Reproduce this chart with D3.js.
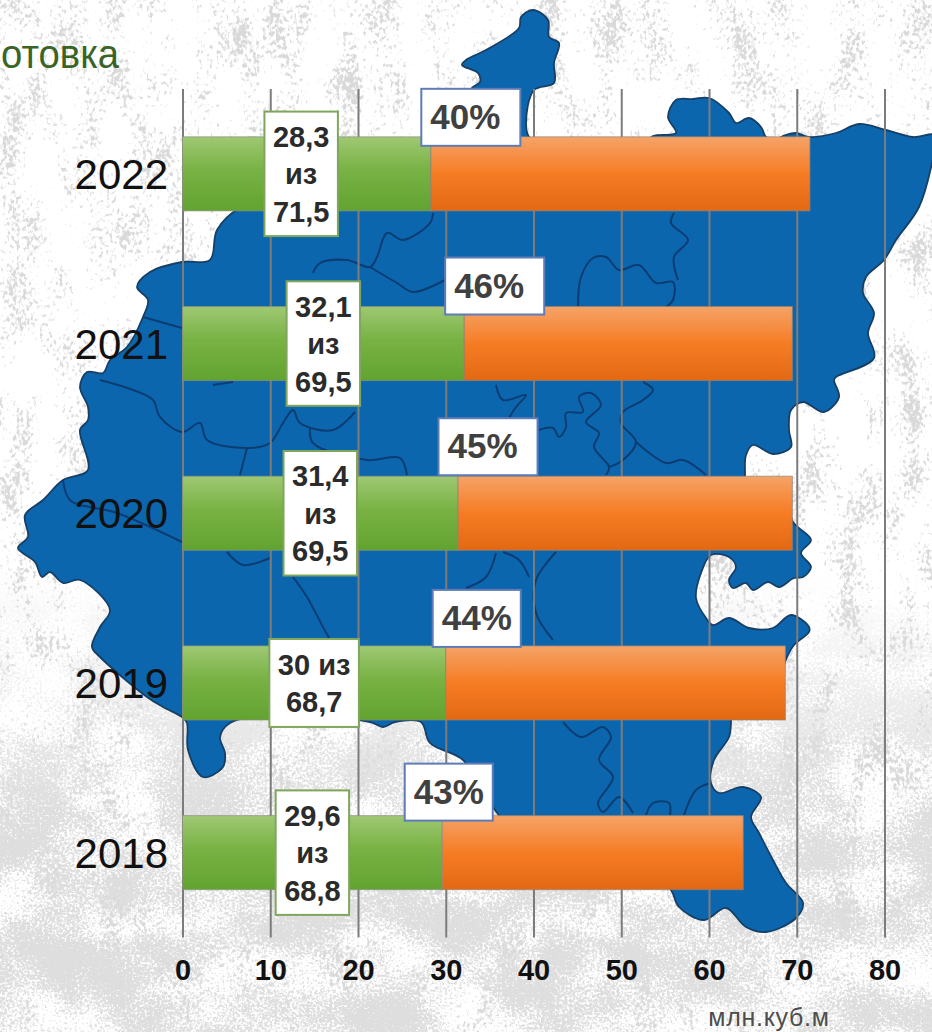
<!DOCTYPE html>
<html lang="ru">
<head>
<meta charset="utf-8">
<script src="https://cdn.jsdelivr.net/npm/d3@7"></script>
<style>
html,body{margin:0;padding:0;background:#fff;overflow:hidden}
svg{display:block;font-family:"Liberation Sans",Arial,sans-serif}
</style>
</head>
<body>
<div id="chart"></div>
<script>
// ---- chart data ----
const years = ["2022", "2021", "2020", "2019", "2018"];
const harvested = [28.3, 32.1, 31.4, 30, 29.6];
const barTotals = [71.5, 69.5, 69.5, 68.7, 63.9];
const shareLabels = ["40%", "46%", "45%", "44%", "43%"];
const amountLabels = [
  ["28,3", "из", "71,5"],
  ["32,1", "из", "69,5"],
  ["31,4", "из", "69,5"],
  ["30 из", "68,7"],
  ["29,6", "из", "68,8"]
];
const xTicks = [0, 10, 20, 30, 40, 50, 60, 70, 80];
const titleText = "отовка";
const unitText = "млн.куб.м";

// ---- label nudges, in pixels ----
const amountShift = [-5.5, 0, 0, 0, 0];
const shareShift = [34.5, 25, 24.5, 31, 6.5];
const shareBottomGap = [9, 8, -1, 1, 5];
const shareExtraRight = [11, 11, 11, 0, 0];

// ---- decorative map behind the chart (page pixels) ----
const mapOutline = [[462,65],[466,60],[486,50],[519,28],[521,17],[533,10],[548,20],[549,37],[559,43],[554,63],[554,83],[534,90],[526,123],[529,137],[540,146],[640,146],[653,136],[676,133],[668,117],[676,100],[693,99],[709,98],[729,113],[736,123],[749,118],[761,127],[766,137],[775,140],[783,136],[796,133],[809,137],[836,133],[859,124],[886,130],[913,137],[936,135],[932,163],[919,207],[896,240],[884,260],[866,277],[863,293],[874,313],[868,333],[874,358],[836,377],[834,380],[839,397],[824,412],[803,402],[791,410],[789,430],[791,447],[773,454],[753,445],[746,455],[745,475],[745,490],[785,495],[793,522],[811,540],[801,553],[811,567],[803,577],[794,578],[779,587],[768,582],[753,590],[746,583],[733,588],[729,580],[736,567],[729,557],[711,555],[701,573],[696,598],[706,618],[713,625],[729,618],[749,628],[773,628],[791,615],[809,627],[809,632],[794,645],[785,662],[775,700],[731,712],[731,722],[729,737],[714,760],[711,783],[719,793],[743,787],[761,797],[751,817],[759,833],[773,860],[786,883],[803,903],[796,918],[766,932],[746,927],[726,908],[704,920],[679,907],[671,890],[650,870],[510,825],[485,795],[463,760],[430,743],[421,722],[395,722],[383,727],[370,722],[270,716],[230,723],[220,737],[225,753],[223,767],[203,777],[188,750],[187,723],[182,717],[163,707],[147,697],[100,657],[92,647],[100,627],[110,610],[80,580],[63,583],[50,572],[42,577],[35,562],[18,548],[28,537],[25,515],[43,500],[63,480],[88,470],[80,430],[88,420],[88,407],[80,387],[87,372],[103,373],[110,360],[127,347],[143,317],[148,300],[137,287],[150,272],[182,262],[210,260],[217,230],[240,208],[300,195],[415,150],[440,120],[470,100],[472,88],[480,82],[478,73]];
const mapBorders = [
  [[433,213],[430,223],[403,240],[387,233],[377,257],[370,267],[347,260],[320,263],[313,273]],
  [[370,267],[397,283],[413,292],[445,280]],
  [[578,307],[581,277],[593,258],[606,257],[619,270],[639,265],[656,283],[673,282],[673,300],[666,307]],
  [[674,213],[671,223],[688,240],[674,257],[678,280]],
  [[496,385],[503,400],[526,395],[516,407],[509,418]],
  [[539,430],[553,428],[559,437],[566,427],[566,413],[583,412],[579,397],[591,393],[601,405],[586,422],[599,433],[594,447],[609,467],[606,475]],
  [[609,467],[623,460],[636,442],[621,423],[623,412],[643,400],[653,390],[643,382]],
  [[636,442],[666,463],[683,460],[706,475]],
  [[503,552],[519,560],[529,577]],
  [[496,553],[486,577],[466,588]],
  [[556,552],[536,580],[536,613],[553,640]],
  [[563,722],[581,737],[603,727],[611,737],[599,760],[613,777],[598,803],[603,812],[619,797],[633,813]],
  [[646,815],[653,803],[669,803],[670,815]],
  [[684,815],[696,790],[711,783]],
  [[100,380],[133,390],[153,400],[160,417],[182,432],[200,423],[207,440],[247,448],[270,443],[283,423],[293,410],[300,423],[333,430],[355,412]],
  [[310,428],[313,443],[367,460],[400,458],[407,475]],
  [[247,448],[240,475]],
  [[63,480],[70,500],[117,513],[182,542]],
  [[227,552],[243,565],[270,558]],
  [[293,577],[307,597],[323,627],[333,645]],
  [[143,317],[182,328]],
  [[213,385],[233,382]]
];

// ---- drawing ----
const W = 932, H = 1032;
const svg = d3.select("#chart").append("svg").attr("width", W).attr("height", H);
const defs = svg.append("defs");

function barGradient(id, stops) {
  const g = defs.append("linearGradient").attr("id", id).attr("x1", 0).attr("x2", 0).attr("y1", 0).attr("y2", 1);
  stops.forEach(s => g.append("stop").attr("offset", s[0]).attr("stop-color", s[1]));
}
barGradient("greenBar", [[0, "#9fc873"], [0.45, "#78b244"], [1, "#62a330"]]);
barGradient("orangeBar", [[0, "#f5a368"], [0.5, "#f67c24"], [1, "#e36813"]]);

const opaque = "1 0 0 0 0  0 1 0 0 0  0 0 1 0 0  0 0 0 0 1";
function mottled(id, lowFreq, highFreq, seed, grey, gain, cut) {
  const f = defs.append("filter").attr("id", id).attr("x", 0).attr("y", 0).attr("width", 1).attr("height", 1)
    .attr("color-interpolation-filters", "sRGB");
  f.append("feTurbulence").attr("type", "fractalNoise").attr("baseFrequency", lowFreq).attr("numOctaves", 4).attr("seed", seed);
  f.append("feColorMatrix").attr("values", opaque).attr("result", "low");
  f.append("feTurbulence").attr("type", "fractalNoise").attr("baseFrequency", highFreq).attr("numOctaves", 2).attr("seed", seed + 4);
  f.append("feColorMatrix").attr("values", opaque).attr("result", "high");
  f.append("feComposite").attr("in", "low").attr("in2", "high").attr("operator", "arithmetic")
    .attr("k1", 0).attr("k2", 0.6).attr("k3", 0.6).attr("k4", 0);
  f.append("feColorMatrix").attr("values", `0 0 0 0 ${grey}  0 0 0 0 ${grey}  0 0 0 0 ${grey}  ${gain} 0 0 0 ${-cut}`);
}
mottled("speck", "0.03 0.015", "0.3 0.22", 7, 0.85, 8, 5.3);
mottled("patch", "0.012 0.016", "0.4", 11, 0.87, 7, 3.6);

const fade = defs.append("linearGradient").attr("id", "fadeGrad").attr("x1", 0).attr("x2", 0).attr("y1", 0).attr("y2", 1);
[[0.55, "#000"], [0.78, "#fff"], [1, "#fff"]].forEach(s => fade.append("stop").attr("offset", s[0]).attr("stop-color", s[1]));
defs.append("mask").attr("id", "fadeMask").append("rect").attr("width", W).attr("height", H).attr("fill", "url(#fadeGrad)");

svg.append("rect").attr("width", W).attr("height", H).attr("fill", "#ffffff");
svg.append("rect").attr("width", W).attr("height", H).attr("filter", "url(#speck)");
svg.append("g").attr("mask", "url(#fadeMask)").append("rect").attr("width", W).attr("height", H).attr("filter", "url(#patch)");

const outline = d3.line().curve(d3.curveCatmullRomClosed.alpha(0.5));
const border = d3.line().curve(d3.curveCatmullRom.alpha(0.5));
const mapLayer = svg.append("g");
mapLayer.append("path").attr("d", outline(mapOutline)).attr("fill", "#0c66ae").attr("stroke", "#163f66").attr("stroke-width", 1.8);
mapLayer.selectAll("path.border").data(mapBorders).join("path").attr("class", "border")
  .attr("d", d => border(d)).attr("fill", "none").attr("stroke", "#0b3d72").attr("stroke-width", 2);

svg.append("text").attr("x", 1).attr("y", 68).attr("font-size", 40)
  .attr("textLength", 118).attr("lengthAdjust", "spacingAndGlyphs")
  .attr("fill", "#3a6426").text(titleText);

const x = d3.scaleLinear().domain([0, 80]).range([182.5, 884.5]);
const y = d3.scaleBand().domain(years).range([89, 937.5]).paddingInner(0.5636).paddingOuter(0.2818);

const xAxis = d3.axisBottom(x).tickValues(xTicks).tickFormat(d3.format("d")).tickSize(-848.5).tickPadding(22);
const xg = svg.append("g").attr("transform", "translate(0,937.5)").call(xAxis);
xg.select(".domain").remove();
xg.selectAll(".tick line").attr("stroke", "#7c7c7c").attr("stroke-width", 2);
xg.selectAll(".tick text").attr("fill", "#111").attr("font-size", 29).attr("font-weight", "bold")
  .attr("font-family", '"Liberation Sans",Arial,sans-serif');

const yAxis = d3.axisLeft(y).tickSize(0).tickPadding(14.5);
const yg = svg.append("g").attr("transform", "translate(182.5,1.5)").call(yAxis);
yg.select(".domain").remove();
yg.selectAll(".tick text").attr("fill", "#111").attr("font-size", 42)
  .attr("font-family", '"Liberation Sans",Arial,sans-serif');

const rows = years.map((year, i) => ({
  year, i, green: harvested[i], total: barTotals[i], share: shareLabels[i], amount: amountLabels[i]
}));

const bars = svg.append("g").selectAll("g").data(rows).join("g");
bars.append("rect").attr("x", x(0)).attr("y", d => y(d.year)).attr("height", y.bandwidth())
  .attr("width", d => x(d.green) - x(0)).attr("fill", "url(#greenBar)")
  .attr("stroke", "#8a8f82").attr("stroke-opacity", 0.7);
bars.append("rect").attr("x", d => x(d.green)).attr("y", d => y(d.year)).attr("height", y.bandwidth())
  .attr("width", d => x(d.total) - x(d.green)).attr("fill", "url(#orangeBar)")
  .attr("stroke", "#8f8378").attr("stroke-opacity", 0.7);

// amount call-outs
const lineStep = 37.5, amountSize = 29;
const amounts = svg.append("g").selectAll("g").data(rows).join("g")
  .attr("transform", d => `translate(${x(d.green / 2) + amountShift[d.i]},${y(d.year) + y.bandwidth() / 2})`);
amounts.append("rect").attr("fill", "#fff").attr("stroke", "#7fa65c").attr("stroke-width", 2);
amounts.selectAll("text").data(d => d.amount.map((t, j) => ({ t, j, n: d.amount.length }))).join("text")
  .attr("text-anchor", "middle").attr("font-size", amountSize).attr("font-weight", "bold").attr("fill", "#2b2b2b")
  .attr("y", d => (d.j - (d.n - 1) / 2) * lineStep + 10.5).text(d => d.t);
amounts.each(function (d) {
  const g = d3.select(this);
  let w = 0;
  g.selectAll("text").each(function () { w = Math.max(w, this.getComputedTextLength()); });
  const bw = w + 17, bh = d.amount.length * lineStep + (d.amount.length === 2 ? 13 : 12);
  g.select("rect").attr("x", -bw / 2).attr("y", -bh / 2).attr("width", bw).attr("height", bh);
});

// share call-outs
const shareH = 57;
const shares = svg.append("g").selectAll("g").data(rows).join("g")
  .attr("transform", d => `translate(${x(d.green) + shareShift[d.i]},${y(d.year) + shareBottomGap[d.i] - shareH / 2})`);
shares.append("rect").attr("fill", "#fff").attr("stroke", "#5f7cb6").attr("stroke-width", 2).attr("height", shareH).attr("y", -shareH / 2);
shares.append("text").attr("text-anchor", "middle").attr("y", 11.5).attr("font-size", 35).attr("font-weight", "bold")
  .attr("fill", "#404040").text(d => d.share);
shares.each(function (d) {
  const g = d3.select(this);
  const w = g.select("text").node().getComputedTextLength();
  g.select("rect").attr("x", -w / 2 - 9).attr("width", w + 18 + shareExtraRight[d.i]);
});

svg.append("text").attr("x", 769).attr("y", 1025.5).attr("text-anchor", "middle")
  .attr("font-size", 25).attr("letter-spacing", 0.7).attr("fill", "#4d4d4d").text(unitText);
</script>
</body>
</html>
